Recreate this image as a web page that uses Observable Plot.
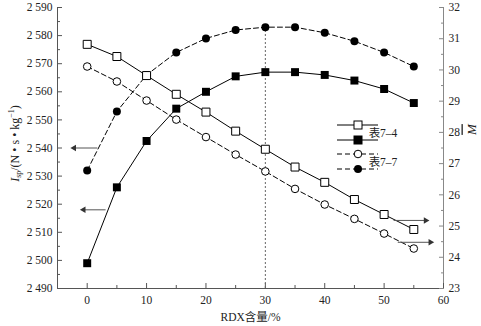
<!DOCTYPE html>
<html>
<head>
<meta charset="utf-8">
<script src="https://cdn.jsdelivr.net/npm/d3@7"></script>
<script src="https://cdn.jsdelivr.net/npm/@observablehq/plot@0.6"></script>
<style>
  html, body { margin: 0; padding: 0; background: #fff; }
  #chart svg { display: block; }
</style>
</head>
<body>
<div id="chart"></div>
<script>
// ---- data ----
const rdx = [0, 5, 10, 15, 20, 25, 30, 35, 40, 45, 50, 55];
// specific impulse Isp (left axis)
const isp74 = [2499, 2526, 2542.5, 2554, 2560, 2565.5, 2567, 2567, 2566, 2564, 2561, 2556];
const isp77 = [2532, 2553, 2566, 2574, 2579, 2582, 2583, 2583, 2581, 2578, 2574, 2569];
// mean molecular mass M (right axis)
const m74 = [30.82, 30.43, 29.82, 29.22, 28.65, 28.04, 27.46, 26.89, 26.40, 25.85, 25.37, 24.89];
const m77 = [30.11, 29.63, 29.02, 28.41, 27.85, 27.29, 26.75, 26.19, 25.69, 25.23, 24.76, 24.28];

const xTicks = [0, 10, 20, 30, 40, 50, 60];
const xMinor = [5, 15, 25, 35, 45, 55];
const ispTicks = [2490, 2500, 2510, 2520, 2530, 2540, 2550, 2560, 2570, 2580, 2590];
const ispMinor = [2495, 2505, 2515, 2525, 2535, 2545, 2555, 2565, 2575, 2585];
const mTicks = [23, 24, 25, 26, 27, 28, 29, 30, 31, 32];
const mMinor = [23.5, 24.5, 25.5, 26.5, 27.5, 28.5, 29.5, 30.5, 31.5];
const legendLabels = ["表7–4", "表7–7"];
const xLabel = "RDX含量/%";

// axis-indicator arrows (value-space)
const leftArrows = [{y: 2540, x1: 1.7, x2: -2.2}, {y: 2518, x1: 3.1, x2: -0.6}];
const rightArrows = [{y: 25.18, x1: 51.6, x2: 57.0}, {y: 24.48, x1: 52.3, x2: 57.8}];

// ---- scales ----
const ISP0 = 2490, ISP1 = 2590, M0 = 23, M1 = 32;
const toIsp = m => ISP0 + (m - M0) * (ISP1 - ISP0) / (M1 - M0);
const toM = v => M0 + (v - ISP0) * (M1 - M0) / (ISP1 - ISP0);
const fmtIsp = v => { const s = String(Math.round(v)); return s.slice(0, 1) + " " + s.slice(1); };

const s74 = rdx.map((x, i) => ({x, y: isp74[i]}));
const s77 = rdx.map((x, i) => ({x, y: isp77[i]}));
const o74 = rdx.map((x, i) => ({x, y: toIsp(m74[i])}));
const o77 = rdx.map((x, i) => ({x, y: toIsp(m77[i])}));
const rArr = rightArrows.map(d => ({...d, y: toIsp(d.y)}));
const peak = isp77[rdx.indexOf(30)];

const W = 481, H = 326, MT = 7, MB = 38, ML = 57, MR = 38;
const serif = '"Liberation Serif", "Noto Sans CJK SC", serif';
const axisCol = "#555";
const dash = "5,3";

const chart = Plot.plot({
  width: W, height: H,
  marginTop: MT, marginBottom: MB, marginLeft: ML, marginRight: MR,
  style: {fontFamily: serif, fontSize: "11.5px", color: "#222", background: "#fff", overflow: "visible"},
  x: {domain: [-5, 60]},
  y: {domain: [ISP0, ISP1]},
  marks: [
    // axis lines
    Plot.ruleX([-5], {stroke: axisCol}),
    Plot.ruleX([60], {stroke: "#888"}),
    Plot.ruleY([ISP0], {stroke: axisCol}),
    // x axis
    Plot.axisX({ticks: xTicks, tickSize: -5, tickPadding: 12, stroke: axisCol, label: xLabel, labelAnchor: "center", labelArrow: "none", labelOffset: 32}),
    Plot.axisX({ticks: xMinor, tickSize: -3, tickFormat: () => "", stroke: axisCol, label: null}),
    // left axis
    Plot.axisY({ticks: ispTicks, tickSize: -5, tickPadding: 10, tickFormat: fmtIsp, stroke: axisCol, label: null}),
    Plot.axisY({ticks: ispMinor, tickSize: -3, tickFormat: () => "", stroke: axisCol, label: null}),
    // right axis (M mapped into Isp space)
    Plot.axisY({anchor: "right", ticks: mTicks.map(toIsp), tickSize: -5, tickPadding: 10, tickFormat: v => String(Math.round(toM(v))), stroke: "#888", label: null}),
    Plot.axisY({anchor: "right", ticks: mMinor.map(toIsp), tickSize: -3, tickFormat: () => "", stroke: "#888", label: null}),
    // dotted reference at 30 %
    Plot.ruleX([30], {y1: ISP0, y2: peak, stroke: "#666", strokeDasharray: "2,2"}),
    // lines
    Plot.line(s74, {x: "x", y: "y", stroke: "#000", strokeWidth: 1}),
    Plot.line(s77, {x: "x", y: "y", stroke: "#000", strokeWidth: 1, strokeDasharray: dash}),
    Plot.line(o74, {x: "x", y: "y", stroke: "#000", strokeWidth: 1}),
    Plot.line(o77, {x: "x", y: "y", stroke: "#000", strokeWidth: 1, strokeDasharray: dash}),
    // markers
    Plot.dot(s77, {x: "x", y: "y", symbol: "circle", r: 4, fill: "#000", stroke: "none"}),
    Plot.dot(s74, {x: "x", y: "y", symbol: "square", r: 4.5, fill: "#000", stroke: "none"}),
    Plot.dot(o77, {x: "x", y: "y", symbol: "circle", r: 3.8, fill: "#fff", stroke: "#000", strokeWidth: 1}),
    Plot.dot(o74, {x: "x", y: "y", symbol: "square", r: 4.5, fill: "#fff", stroke: "#000", strokeWidth: 1}),
    // axis-indicator arrows
    Plot.link(leftArrows, {x1: "x1", x2: "x2", y1: "y", y2: "y", stroke: "#555"}),
    Plot.dot(leftArrows, {x: "x2", y: "y", symbol: "triangle", rotate: -90, r: 2.4, fill: "#333", stroke: "none"}),
    Plot.link(rArr, {x1: "x1", x2: "x2", y1: "y", y2: "y", stroke: "#555"}),
    Plot.dot(rArr, {x: "x2", y: "y", symbol: "triangle", rotate: 90, r: 2.4, fill: "#333", stroke: "none"})
  ]
});

document.getElementById("chart").appendChild(chart);

// ---- rich axis titles and legend ----
const svg = d3.select(chart);
const midY = MT + (H - MT - MB) / 2;

const yl = svg.append("text")
  .attr("transform", `translate(15,${midY - 4}) rotate(-90)`)
  .attr("text-anchor", "middle").attr("dominant-baseline", "central")
  .attr("font-family", serif).attr("font-size", 12).attr("fill", "#222");
yl.append("tspan").attr("font-style", "italic").text("I");
yl.append("tspan").attr("font-size", 8).attr("dy", 3).text("sp");
yl.append("tspan").attr("dy", -3).text("/(N • s • kg");
yl.append("tspan").attr("font-size", 8).attr("dy", -4).text("−1");
yl.append("tspan").attr("dy", 4).text(")");

svg.append("text")
  .attr("transform", `translate(471,${midY - 18}) rotate(-90)`)
  .attr("text-anchor", "middle").attr("dominant-baseline", "central")
  .attr("font-family", serif).attr("font-size", 13).attr("font-style", "italic")
  .attr("text-decoration", "overline").attr("fill", "#222")
  .text("M");

const lg = svg.append("g").attr("transform", "translate(337,125)");
const items = [
  {dy: 0, dashed: false, sym: "square", fill: "#fff"},
  {dy: 15, dashed: false, sym: "square", fill: "#000"},
  {dy: 29, dashed: true, sym: "circle", fill: "#fff"},
  {dy: 44, dashed: true, sym: "circle", fill: "#000"}
];
items.forEach(it => {
  lg.append("line").attr("x1", 0).attr("x2", 41).attr("y1", it.dy).attr("y2", it.dy)
    .attr("stroke", "#000").attr("stroke-dasharray", it.dashed ? dash : null);
  if (it.sym === "square") {
    lg.append("rect").attr("x", 21 - 4).attr("y", it.dy - 4).attr("width", 8).attr("height", 8)
      .attr("fill", it.fill).attr("stroke", "#000");
  } else {
    lg.append("circle").attr("cx", 21).attr("cy", it.dy).attr("r", it.fill === "#fff" ? 3.8 : 4)
      .attr("fill", it.fill).attr("stroke", it.fill === "#fff" ? "#000" : "none");
  }
});
legendLabels.forEach((t, i) => {
  lg.append("text").attr("x", 46).attr("y", i === 0 ? 7.5 : 36.5)
    .attr("dominant-baseline", "central").attr("font-family", serif).attr("font-size", 11.5)
    .attr("fill", "#222").text(t);
});
</script>
</body>
</html>
